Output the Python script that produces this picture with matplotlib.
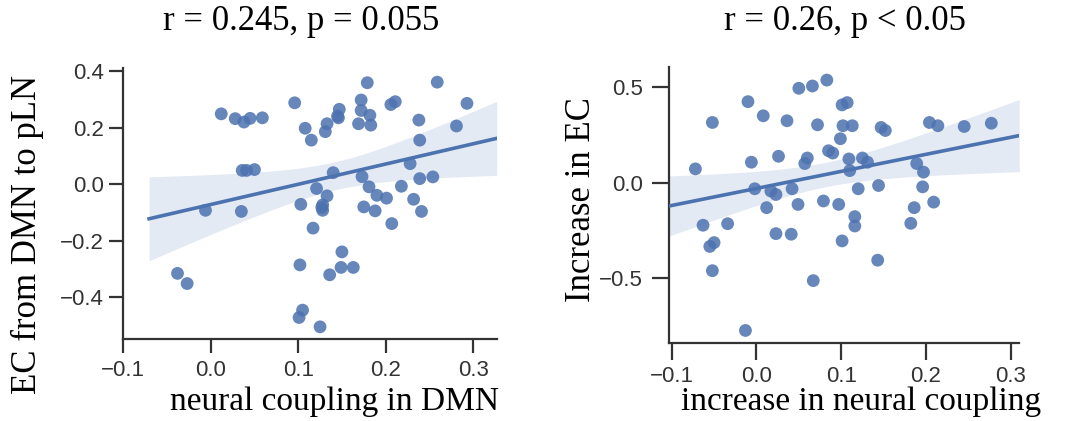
import numpy as np
import matplotlib
matplotlib.use("Agg")
import matplotlib.pyplot as plt

# ---------------- data ----------------
left_x = [-0.038, -0.027, -0.006, 0.012, 0.028, 0.038, 0.045, 0.059, 0.036, 0.041,
          0.050, 0.035, 0.096, 0.108, 0.115, 0.103, 0.102, 0.105, 0.101, 0.125,
          0.117, 0.121, 0.133, 0.128, 0.128, 0.127, 0.131, 0.133, 0.140, 0.145,
          0.147, 0.146, 0.136, 0.149, 0.150, 0.163, 0.169, 0.172, 0.172, 0.179,
          0.182, 0.183, 0.173, 0.181, 0.175, 0.188, 0.190, 0.201, 0.207, 0.206,
          0.211, 0.218, 0.228, 0.232, 0.238, 0.239, 0.239, 0.241, 0.254, 0.259,
          0.281, 0.293]
left_y = [-0.315, -0.351, -0.092, 0.249, 0.232, 0.220, 0.233, 0.235, 0.049, 0.049,
          0.052, -0.096, 0.288, 0.198, 0.156, -0.071, -0.285, -0.445, -0.471, -0.504,
          -0.155, -0.015, -0.041, -0.073, -0.092, -0.082, 0.186, 0.214, 0.041, 0.241,
          0.265, 0.235, -0.320, -0.294, -0.239, -0.294, 0.214, 0.298, 0.261, 0.359,
          0.244, 0.209, 0.027, -0.009, -0.080, -0.094, -0.039, -0.049, -0.139, 0.282,
          0.292, -0.007, 0.073, -0.053, 0.227, 0.156, 0.020, -0.096, 0.026, 0.361,
          0.206, 0.286]

right_x = [-0.072, -0.063, -0.052, -0.055, -0.050, -0.052, -0.034, -0.013, -0.010, -0.006,
           -0.002, 0.008, 0.012, 0.017, 0.023, 0.023, 0.026, 0.036, 0.042, 0.041,
           0.049, 0.050, 0.057, 0.060, 0.066, 0.067, 0.072, 0.079, 0.083, 0.085,
           0.090, 0.097, 0.099, 0.101, 0.107, 0.102, 0.113, 0.101, 0.109, 0.110,
           0.120, 0.116, 0.116, 0.125, 0.131, 0.144, 0.143, 0.147, 0.152, 0.182,
           0.186, 0.189, 0.197, 0.196, 0.204, 0.214, 0.209, 0.245, 0.277]
right_y = [0.073, -0.222, 0.316, -0.333, -0.313, -0.460, -0.214, -0.773, 0.425, 0.108,
           -0.031, 0.351, -0.130, -0.043, -0.061, -0.266, 0.139, 0.325, -0.031, -0.269,
           -0.113, 0.495, 0.101, 0.130, 0.507, -0.512, 0.304, -0.095, 0.538, 0.168,
           0.156, -0.113, 0.231, 0.408, 0.420, 0.299, 0.299, -0.304, 0.125, 0.064,
           -0.031, -0.177, -0.226, 0.130, 0.108, -0.014, -0.405, 0.290, 0.274, -0.212,
           -0.130, 0.101, 0.056, -0.021, 0.316, 0.299, -0.101, 0.295, 0.312]

titles = ["r = 0.245, p = 0.055", "r = 0.26, p < 0.05"]
xlabels = ["neural coupling in DMN", "increase in neural coupling"]
ylabels = ["EC from DMN to pLN", "Increase in EC"]
xticks = [-0.1, 0.0, 0.1, 0.2, 0.3]
left_yticks = [-0.4, -0.2, 0.0, 0.2, 0.4]
right_yticks = [-0.5, 0.0, 0.5]

# ---------------- style ----------------
W, H = 1069, 421
BLUE = "#4C72B0"
SERIF = ["Liberation Serif", "DejaVu Serif"]
SANS = ["Liberation Sans", "DejaVu Sans"]
plt.rcParams["axes.unicode_minus"] = True

fig = plt.figure(figsize=(W / 100, H / 100), dpi=100)


def px_axes(l, t, r, b):
    return fig.add_axes([l / W, 1 - b / H, (r - l) / W, (b - t) / H])


def fit_band(x, y, xs):
    x = np.asarray(x); y = np.asarray(y)
    n = len(x)
    b, a = np.polyfit(x, y, 1)
    yhat = a + b * x
    s = np.sqrt(np.sum((y - yhat) ** 2) / (n - 2))
    xm = x.mean(); sxx = np.sum((x - xm) ** 2)
    se = s * np.sqrt(1.0 / n + (xs - xm) ** 2 / sxx)
    t = 1.8
    ys = a + b * xs
    return ys, ys - t * se, ys + t * se


def draw(ax, x, y, xlim, ylim, yticks, line_x0, xpad, ypad, tlen):
    xs = np.linspace(line_x0, xlim[1], 100)
    ys, lo, hi = fit_band(x, y, xs)
    ax.fill_between(xs, lo, hi, color=BLUE, alpha=0.15, linewidth=0, zorder=1)
    ax.scatter(x, y, s=85, color=BLUE, alpha=0.85, edgecolors="none", zorder=3)
    ax.plot(xs, ys, color=BLUE, linewidth=2.6, zorder=4)
    ax.set_xlim(*xlim)
    ax.set_ylim(*ylim)
    ax.set_xticks(xticks)
    ax.set_yticks(yticks)
    for sp in ("top", "right"):
        ax.spines[sp].set_visible(False)
    for sp in ("left", "bottom"):
        ax.spines[sp].set_color("#333333")
        ax.spines[sp].set_linewidth(1.6)
    ax.tick_params(axis="both", colors="#333333", width=1.6, length=tlen,
                   labelsize=16, labelcolor="#333333")
    ax.tick_params(axis="x", pad=xpad)
    ax.tick_params(axis="y", pad=ypad)
    for lab in ax.get_xticklabels() + ax.get_yticklabels():
        lab.set_family(SANS)


ax1 = px_axes(123.3, 68.3, 496.7, 339.0)
draw(ax1, left_x, left_y, (-0.1, 0.327), (-0.547, 0.41), left_yticks,
     -0.0705, 5, 4, 10)
ax2 = px_axes(669.3, 66.7, 1019.3, 342.7)
draw(ax2, right_x, right_y, (-0.1028, 0.310), (-0.837, 0.608), right_yticks,
     -0.1028, 5, 7, 12)

# titles and labels
fig.text(301 / W, 1 - 22 / H, titles[0], family=SERIF, fontsize=25,
         ha="center", va="center", color="black")
fig.text(845 / W, 1 - 22 / H, titles[1], family=SERIF, fontsize=25,
         ha="center", va="center", color="black")
fig.text(334 / W, 1 - 402 / H, xlabels[0], family=SERIF, fontsize=24,
         ha="center", va="center", color="black")
fig.text(861 / W, 1 - 402 / H, xlabels[1], family=SERIF, fontsize=24,
         ha="center", va="center", color="black")
fig.text(27 / W, 1 - 235 / H, ylabels[0], family=SERIF, fontsize=25,
         ha="center", va="center", rotation=90, color="black")
fig.text(581 / W, 1 - 200 / H, ylabels[1], family=SERIF, fontsize=25,
         ha="center", va="center", rotation=90, color="black")

fig.savefig("out.png", dpi=100)
